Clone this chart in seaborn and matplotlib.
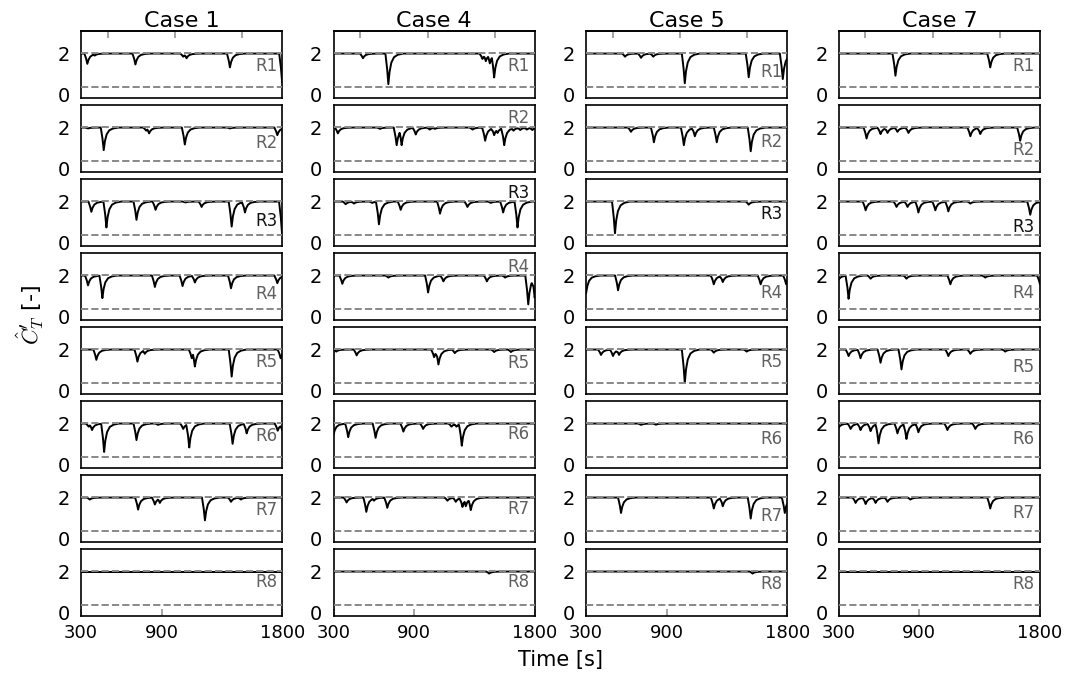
import numpy as np
import matplotlib
matplotlib.use("Agg")
import matplotlib.pyplot as plt
import matplotlib.transforms as mtransforms
import seaborn as sns

# ---------------- data ----------------
cases = ["Case 1", "Case 4", "Case 5", "Case 7"]
regions = ["R1", "R2", "R3", "R4", "R5", "R6", "R7", "R8"]
x_ticks = [300, 900, 1800]
y_ticks = [0, 2]
upper_limit = 2.0
lower_limit = 0.5
baseline = 1.99

# dip minima per region: times [s] and minimum C_T' values
case1_t = [[347, 402, 705, 1061, 1086, 1409, 1798],
           [352, 469, 785, 807, 1073, 1409, 1762],
           [377, 489, 713, 855, 1078, 1198, 1422, 1521, 1797],
           [352, 459, 850, 1056, 1148, 1417, 1762],
           [414, 720, 775, 1125, 1148, 1422, 1787],
           [357, 382, 472, 713, 874, 1061, 1106, 1429, 1534, 1765, 1798],
           [365, 725, 850, 887, 1223, 1417, 1491],
           []]
case1_v = [[1.53, 1.90, 1.50, 1.85, 1.78, 1.37, 0.70],
           [1.95, 0.98, 1.85, 1.73, 1.23, 1.95, 1.65],
           [1.53, 0.83, 1.17, 1.62, 1.95, 1.75, 0.87, 1.50, 0.58],
           [1.55, 0.98, 1.48, 1.52, 1.68, 1.42, 1.65],
           [1.53, 1.45, 1.80, 1.60, 1.23, 0.78, 1.60],
           [1.85, 1.70, 0.72, 1.25, 1.93, 1.75, 0.92, 1.08, 1.55, 1.67, 1.70],
           [1.90, 1.45, 1.68, 1.75, 0.97, 1.80, 1.90],
           []]

case4_t = [[519, 708, 1409, 1434, 1464, 1496],
           [332, 646, 770, 807, 912, 1016, 1055, 1335, 1429, 1496, 1521, 1571,
            1640, 1690, 1740, 1780],
           [390, 452, 588, 638, 800, 1093, 1297, 1471, 1563, 1670],
           [365, 708, 1004, 1118, 1442, 1578, 1750, 1798],
           [320, 472, 1049, 1081, 1203, 1496, 1621],
           [300, 409, 613, 820, 967, 1178, 1215, 1255],
           [397, 544, 601, 700, 1148, 1210, 1260, 1285, 1322],
           [1459]]
case4_v = [[1.78, 0.62, 1.75, 1.65, 1.55, 0.92],
           [1.73, 1.93, 1.20, 1.20, 1.68, 1.90, 1.93, 1.90, 1.40, 1.65, 1.75, 1.20,
            1.85, 1.88, 1.90, 1.88],
           [1.87, 1.90, 1.93, 0.97, 1.62, 1.45, 1.75, 1.93, 1.50, 0.83],
           [1.62, 1.90, 1.23, 1.73, 1.73, 1.90, 0.70, 1.00],
           [1.90, 1.73, 1.65, 1.32, 1.83, 1.88, 1.88],
           [1.50, 1.38, 1.35, 1.63, 1.75, 1.85, 1.85, 1.00],
           [1.77, 1.35, 1.85, 1.53, 1.85, 1.80, 1.57, 1.60, 1.43],
           [1.90]]

case5_t = [[590, 709, 800, 1035, 1511, 1765],
           [634, 805, 1028, 1110, 1273, 1526],
           [515, 1511],
           [300, 538, 1251, 1318, 1600, 1790],
           [411, 500, 545, 1035, 1251, 1496],
           [709, 820],
           [560, 1251, 1318, 1526, 1780],
           [1540]]
case5_v = [[1.85, 1.80, 1.85, 0.66, 0.93, 0.85],
           [1.80, 1.33, 1.20, 1.60, 1.33, 0.93],
           [0.57, 1.85],
           [1.20, 1.33, 1.60, 1.70, 1.60, 1.60],
           [1.75, 1.70, 1.75, 0.50, 1.85, 1.90],
           [1.93, 1.94],
           [1.30, 1.50, 1.60, 1.05, 1.30],
           [1.90]]

case7_t = [[723, 1429],
           [508, 612, 664, 738, 820, 1281, 1355, 1652],
           [501, 731, 813, 894, 1020, 1117, 1281, 1727],
           [300, 374, 538, 805, 1132, 1392, 1800],
           [374, 463, 612, 768, 1117, 1281, 1541],
           [300, 389, 463, 538, 597, 738, 805, 894, 1110, 1318],
           [426, 501, 575, 664, 835, 1429],
           []]
case7_v = [[1.00, 1.37],
           [1.50, 1.70, 1.75, 1.80, 1.75, 1.60, 1.70, 1.40],
           [1.60, 1.75, 1.75, 1.50, 1.60, 1.55, 1.90, 1.40],
           [1.80, 0.95, 1.85, 1.85, 1.60, 1.90, 1.60],
           [1.70, 1.60, 1.40, 1.10, 1.70, 1.80, 1.90],
           [1.80, 1.75, 1.70, 1.65, 1.10, 1.55, 1.30, 1.60, 1.70, 1.75],
           [1.75, 1.70, 1.75, 1.80, 1.90, 1.50],
           []]

all_t = [case1_t, case4_t, case5_t, case7_t]
all_v = [case1_v, case4_v, case5_v, case7_v]

# region label heights (data units) per case
label_y = [[1.45, 1.28, 1.13, 1.15, 1.43, 1.42, 1.43, 1.50],
           [1.45, 2.40, 2.38, 2.38, 1.37, 1.50, 1.48, 1.50],
           [1.15, 1.33, 1.42, 1.20, 1.42, 1.30, 1.15, 1.45],
           [1.42, 0.97, 0.85, 1.20, 1.20, 1.30, 1.30, 1.45]]

# ---------------- drawing ----------------
# shape of one dip: drop fast, recover slowly (offset in s, fraction of depth)
shape_dt = np.array([-22.0, -9.0, 0.0, 9.0, 22.0, 42.0, 70.0, 110.0])
shape_fr = np.array([0.0, 0.5, 1.0, 0.6, 0.3, 0.12, 0.04, 0.0])


def series(times, mins):
    grid = [300.0, 1800.0]
    for t in times:
        grid.extend(list(t + shape_dt))
    grid = np.unique(np.clip(np.array(grid), 300, 1800))
    val = np.full(grid.shape, baseline)
    for t, m in zip(times, mins):
        d = baseline - m
        prof = baseline - d * np.interp(grid, t + shape_dt, shape_fr, left=0, right=0)
        val = np.minimum(val, prof)
    return grid, val


sns.set_theme(style="white")
plt.rcParams["font.family"] = ["DejaVu Sans"]
plt.rcParams["mathtext.fontset"] = "cm"
plt.rcParams["axes.edgecolor"] = "black"
plt.rcParams["axes.linewidth"] = 1.2
plt.rcParams["text.color"] = "black"
plt.rcParams["xtick.labelcolor"] = "black"
plt.rcParams["ytick.labelcolor"] = "black"

fig, axes = plt.subplots(8, 4, figsize=(10.69, 6.84), dpi=100)
fig.subplots_adjust(left=0.0758, right=0.9729, top=0.9547, bottom=0.0994,
                    wspace=0.254, hspace=0.104)

lift = mtransforms.ScaledTranslation(0, 2.5 / 72, fig.dpi_scale_trans)

for c in range(4):
    for r in range(8):
        ax = axes[r, c]
        x, y = series(all_t[c][r], all_v[c][r])
        sns.lineplot(x=x, y=y, ax=ax, color="black", lw=1.4, estimator=None,
                     sort=False, legend=False, zorder=2)
        ax.axhline(upper_limit, color="#888888", lw=1.4, ls="--", zorder=3)
        ax.axhline(lower_limit, color="#888888", lw=1.4, ls="--", zorder=3)
        ax.set_xlim(300, 1800)
        ax.set_ylim(0, 3)
        ax.set_xlabel("")
        ax.set_ylabel("")
        ax.set_yticks(y_ticks)
        ax.set_yticklabels([str(v) for v in y_ticks])
        ax.tick_params(axis="y", length=0, pad=8, labelsize=14, left=False,
                       labelcolor="black")
        for lab in ax.get_yticklabels():
            if lab.get_text() == "0":
                lab.set_transform(lab.get_transform() + lift)
        for s in ax.spines.values():
            s.set_visible(True)
            s.set_color("black")
            s.set_linewidth(1.2)
        if r == 7:
            ax.set_xticks(x_ticks)
            ax.set_xticklabels([str(v) for v in x_ticks])
            ax.tick_params(axis="x", bottom=True, direction="in", length=5,
                           color="#999999", labelsize=13, pad=6,
                           labelcolor="black")
        else:
            ax.set_xticks(x_ticks)
            ax.tick_params(axis="x", bottom=False, labelbottom=False)
        if r == 0:
            ax.set_title(cases[c], fontsize=16, pad=2, color="black")
            sec = ax.secondary_xaxis("top")
            sec.set_xticks([500, 1000, 1500])
            sec.tick_params(direction="in", length=5, color="#999999",
                            labeltop=False)
            sec.spines["top"].set_color("black")
            sec.spines["top"].set_linewidth(1.2)
        lab_col = "#111111" if regions[r] == "R3" else "#606060"
        ax.text(0.975, label_y[c][r], regions[r], transform=ax.get_yaxis_transform(),
                ha="right", va="center", fontsize=12, color=lab_col, zorder=4)

fig.text(0.524, 0.035, "Time [s]", ha="center", va="center", fontsize=15)
fig.text(0.028, 0.54, r"$\hat{C}_T^{\prime}$ [-]", ha="center", va="center",
         rotation=90, fontsize=16)

fig.savefig("out.png", dpi=100)
